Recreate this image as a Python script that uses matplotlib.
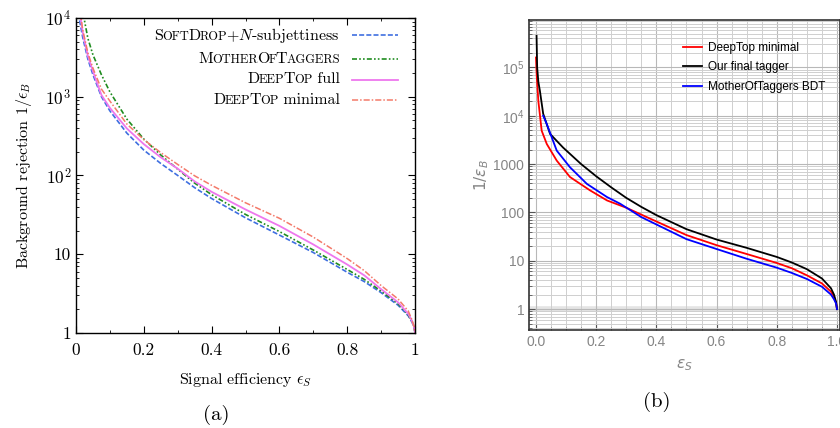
import numpy as np
import matplotlib
matplotlib.use("Agg")
import matplotlib.pyplot as plt
from matplotlib.ticker import FixedLocator, FixedFormatter, LogLocator, NullFormatter, MultipleLocator
from matplotlib.offsetbox import TextArea, HPacker, VPacker, DrawingArea, AnchoredOffsetbox
from matplotlib.lines import Line2D

plt.rcParams['mathtext.fontset'] = 'cm'
plt.rcParams['axes.formatter.use_mathtext'] = True

# --- panel (a) data: signal efficiency vs background rejection ---
eps_a = [0.005, 0.01, 0.02, 0.035, 0.05, 0.075, 0.1, 0.15, 0.2, 0.25, 0.3, 0.35, 0.4,
         0.5, 0.6, 0.7, 0.8, 0.85, 0.9, 0.95, 0.98, 0.99, 0.997, 1.0]
softdrop = [18000, 9500, 5600, 3000, 1900, 1000, 660, 345, 210, 142, 100, 70, 51,
            29, 17.5, 10.5, 5.9, 4.5, 3.25, 2.25, 1.65, 1.4, 1.2, 1.0]
mother = [40000, 22000, 12000, 5500, 3400, 1900, 1150, 520, 290, 182, 120, 80, 57,
          32, 19.4, 11.3, 6.4, 4.8, 3.4, 2.35, 1.7, 1.42, 1.2, 1.0]
deeptop_full = [22000, 13000, 6500, 3300, 2100, 1050, 720, 395, 250, 170, 122, 84, 62,
                37, 22.9, 13.3, 7.4, 5.4, 3.6, 2.45, 1.75, 1.45, 1.2, 1.0]
deeptop_min = [24000, 14000, 7000, 3600, 2300, 1250, 880, 450, 285, 195, 138, 99, 75,
               45, 28.6, 16.5, 8.8, 6.2, 4.0, 2.7, 1.9, 1.5, 1.22, 1.0]

# --- panel (b) data ---
eps_b_red = [0.0, 0.003, 0.008, 0.019, 0.036, 0.069, 0.113, 0.18, 0.236, 0.3, 0.38,
             0.5, 0.6, 0.7, 0.8, 0.85, 0.9, 0.95, 0.98, 0.99, 0.997, 1.0]
rej_b_red = [1.6e5, 6e4, 2e4, 4900, 2600, 1180, 540, 285, 177, 125, 74,
             34, 21, 13.8, 9, 7, 5.0, 3.4, 2.3, 1.8, 1.35, 1.0]
eps_b_black = [0.002, 0.004, 0.008, 0.013, 0.024, 0.047, 0.09, 0.15, 0.2, 0.25, 0.3,
               0.35, 0.4, 0.5, 0.6, 0.7, 0.8, 0.85, 0.9, 0.95, 0.98, 0.99, 0.997, 1.0]
rej_b_black = [4.5e5, 1e5, 5e4, 3.3e4, 1.1e4, 4200, 2200, 1000, 560, 330, 200,
               130, 88, 45, 27.5, 18.5, 12, 9.2, 6.7, 4.3, 2.7, 2.0, 1.4, 1.0]
eps_b_blue = [0.024, 0.036, 0.069, 0.113, 0.169, 0.236, 0.28, 0.35, 0.5, 0.6, 0.7,
              0.8, 0.85, 0.9, 0.95, 0.98, 0.99, 0.997, 1.0]
rej_b_blue = [1e4, 6700, 1900, 860, 390, 208, 151, 80, 28, 17.5, 11,
              7.2, 5.6, 4.2, 2.9, 2.0, 1.6, 1.3, 1.0]

fig = plt.figure(figsize=(8.4, 4.28), dpi=100)

# ================= panel (a) =================
ax = fig.add_axes([0.0905, 0.222, 0.4036, 0.736])
sty = {
    'soft': dict(color='#3f6fe0', ls=(0, (3, 1.3)), lw=1.2),
    'mother': dict(color='#1f8c1f', ls=(0, (3, 1.3, 1, 1.3, 1, 1.3)), lw=1.2),
    'full': dict(color='#ee77ee', ls='-', lw=1.3),
    'min': dict(color='#f47a6a', ls=(0, (4, 1.3, 1, 1.3)), lw=1.1),
}
ax.plot(eps_a, softdrop, **sty['soft'])
ax.plot(eps_a, mother, **sty['mother'])
ax.plot(eps_a, deeptop_full, **sty['full'])
ax.plot(eps_a, deeptop_min, **sty['min'])
ax.set_yscale('log')
ax.set_xlim(0, 1)
ax.set_ylim(1, 1e4)
ax.xaxis.set_major_locator(FixedLocator([0, 0.2, 0.4, 0.6, 0.8, 1.0]))
ax.xaxis.set_major_formatter(FixedFormatter(['0', '0.2', '0.4', '0.6', '0.8', '1']))
ax.xaxis.set_minor_locator(MultipleLocator(0.1))
ax.yaxis.set_major_locator(FixedLocator([1, 10, 100, 1000, 10000]))
ax.yaxis.set_major_formatter(FixedFormatter(['1', '10', '$10^2$', '$10^3$', '$10^4$']))
ax.yaxis.set_minor_locator(LogLocator(base=10, subs=np.arange(2, 10)))
ax.yaxis.set_minor_formatter(NullFormatter())
ax.tick_params(which='both', direction='in', top=True, right=True, labelsize=12.5)
ax.tick_params(which='major', length=5, width=0.8)
ax.tick_params(which='minor', length=2.5, width=0.6)
ax.tick_params(axis='x', pad=7)
for lab in ax.get_xticklabels() + ax.get_yticklabels():
    lab.set_family('cmr10')
for s in ax.spines.values():
    s.set_linewidth(1.0)
ax.set_xlabel(r'Signal efficiency $\epsilon_S$', fontsize=11.5, family='cmr10', labelpad=9)
ax.set_ylabel(r'Background rejection $1/\epsilon_B$', fontsize=11.5, family='cmr10', labelpad=8)


def smallcaps(word_parts, size=11.5):
    # word_parts: list of (text, is_small)
    items = []
    for txt, small in word_parts:
        items.append(TextArea(txt, textprops=dict(family='cmr10', size=size * 0.78 if small else size)))
    return HPacker(children=items, align='baseline', pad=0, sep=-0.6)


def handle(style):
    da = DrawingArea(33, 10, 0, 0)
    da.add_artist(Line2D([0, 33], [5, 5], **style))
    return da


rows = [
    ([('S', 0), ('OFT', 1), ('D', 0), ('ROP', 1), ('+$N$-subjettiness', 0)], sty['soft']),
    ([('M', 0), ('OTHER', 1), ('O', 0), ('F', 1), ('T', 0), ('AGGERS', 1)], sty['mother']),
    ([('D', 0), ('EEP', 1), ('T', 0), ('OP', 1), (' full', 0)], sty['full']),
    ([('D', 0), ('EEP', 1), ('T', 0), ('OP', 1), (' minimal', 0)], sty['min']),
]
packed = []
for parts, st in rows:
    packed.append(HPacker(children=[smallcaps(parts), handle(st)], align='center', pad=0, sep=9))
leg = VPacker(children=packed, align='right', pad=0, sep=5)
ab = AnchoredOffsetbox(loc='upper right', child=leg, pad=0, borderpad=0, frameon=False,
                       bbox_to_anchor=(0.95, 0.975), bbox_transform=ax.transAxes)
ax.add_artist(ab)

fig.text(216 / 840, 1 - 415 / 428, '(a)', ha='center', va='center', fontsize=15, family='cmr10')

# ================= panel (b) =================
gray = '#858585'
bx = fig.add_axes([0.6298, 0.229, 0.3702, 0.724])
bx.axhline(1, color='#e4e4e4', lw=4, zorder=0)
bx.plot(eps_b_red, rej_b_red, color='#ff0000', lw=1.3, label='DeepTop minimal')
bx.plot(eps_b_black, rej_b_black, color='#000000', lw=1.3, label='Our final tagger')
bx.plot(eps_b_blue, rej_b_blue, color='#0000ff', lw=1.3, label='MotherOfTaggers BDT')
bx.set_yscale('log')
bx.set_xlim(-0.023, 1.01)
bx.set_ylim(0.37, 9.5e5)
bx.xaxis.set_major_locator(FixedLocator([0, 0.2, 0.4, 0.6, 0.8, 1.0]))
bx.xaxis.set_major_formatter(FixedFormatter(['0.0', '0.2', '0.4', '0.6', '0.8', '1.0']))
bx.xaxis.set_minor_locator(MultipleLocator(0.05))
bx.yaxis.set_major_locator(FixedLocator([1, 10, 100, 1000, 1e4, 1e5]))
bx.yaxis.set_major_formatter(FixedFormatter(['1', '10', '100', '1000',
                                             r'$\mathdefault{10^{4}}$', r'$\mathdefault{10^{5}}$']))
bx.yaxis.set_minor_locator(LogLocator(base=10, subs=np.arange(2, 10)))
bx.yaxis.set_minor_formatter(NullFormatter())
bx.grid(which='major', axis='both', color='#b8b8b8', lw=0.8)
bx.grid(which='minor', axis='both', color='#cfcfcf', lw=0.7)
bx.set_axisbelow(True)
bx.tick_params(which='both', direction='in', colors='#555555', labelcolor=gray, labelsize=10)
bx.tick_params(which='major', length=4, width=0.8)
bx.tick_params(which='minor', length=2, width=0.6)
for lab in bx.get_xticklabels() + bx.get_yticklabels():
    lab.set_family('Liberation Sans')
for s in bx.spines.values():
    s.set_linewidth(1.2)
    s.set_color('#333333')
bx.set_xlabel(r'$\epsilon_S$', fontsize=11, color=gray, math_fontfamily='dejavusans', labelpad=6)
bx.set_ylabel(r'$1/\epsilon_B$', fontsize=11, color=gray, math_fontfamily='dejavusans', labelpad=2)
bx.legend(loc='upper left', bbox_to_anchor=(0.495, 0.929), frameon=False,
          prop={'family': 'Liberation Sans', 'size': 8.5}, handlelength=1.6, handletextpad=0.55,
          labelspacing=0.62, borderpad=0, borderaxespad=0)

fig.text(657 / 840, 1 - 402 / 428, '(b)', ha='center', va='center', fontsize=15, family='cmr10')

fig.savefig('out.png', dpi=100)
